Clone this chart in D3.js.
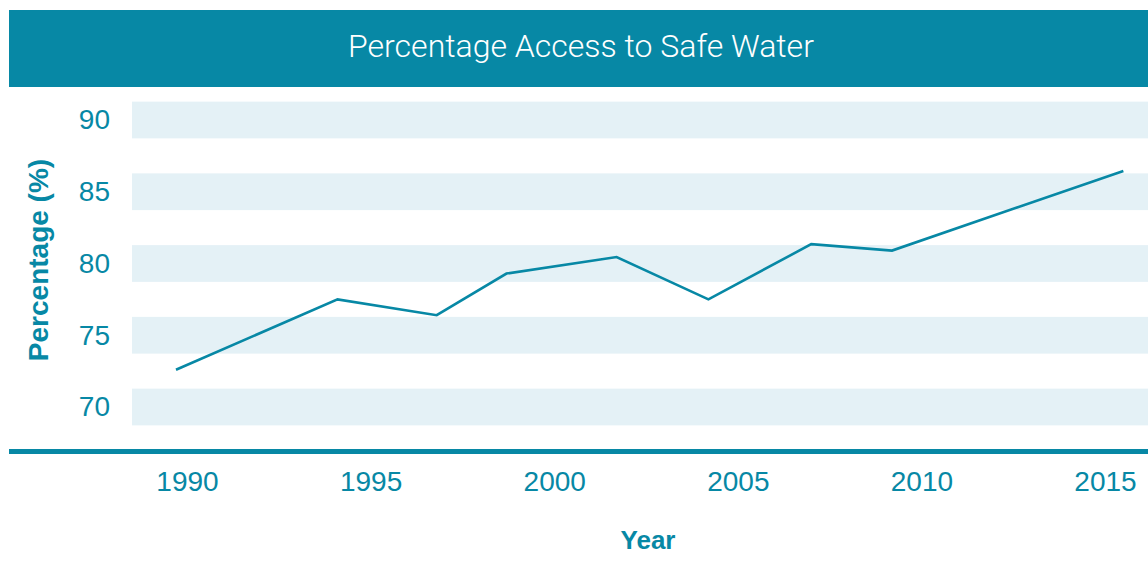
<!DOCTYPE html>
<html>
<head>
<meta charset="utf-8">
<script src="https://cdn.jsdelivr.net/npm/d3@7"></script>
<style>
  body { margin: 0; background: #fff; }
  text { font-family: "Liberation Sans", Arial, sans-serif; }
</style>
</head>
<body>
<div id="chart"></div>
<script>
// data
const years = [1989.7, 1994.1, 1996.8, 1998.7, 2001.7, 2004.2, 2007.0, 2009.2, 2015.5];
const values = [72.6, 77.5, 76.4, 79.3, 80.45, 77.5, 81.35, 80.9, 86.45];
const yTicks = [70, 75, 80, 85, 90];
const xTicks = [1990, 1995, 2000, 2005, 2010, 2015];

const teal = "#0788a5";
const band = "#e4f1f6";

const W = 1148, H = 565;

const svg = d3.select("#chart")
  .append("svg")
  .attr("width", W)
  .attr("height", H);

// scales
const x = d3.scaleLinear().domain([1990, 2015]).range([187, 1105]);
const y = d3.scaleLinear().domain([70, 90]).range([407, 120]);

// title bar
svg.append("rect")
  .attr("x", 9).attr("y", 10)
  .attr("width", W - 9).attr("height", 77)
  .attr("fill", teal);

svg.append("text")
  .attr("x", 581).attr("y", 57)
  .attr("text-anchor", "middle")
  .style("font-family", "Roboto, sans-serif")
  .style("font-weight", 300)
  .style("font-size", "32px")
  .attr("fill", "#fff")
  .text("Percentage Access to Safe Water");

// horizontal bands at each tick
svg.selectAll("rect.band")
  .data(yTicks)
  .join("rect")
    .attr("class", "band")
    .attr("x", 132)
    .attr("width", W - 132)
    .attr("y", d => y(d + 1.28))
    .attr("height", d => y(d - 1.28) - y(d + 1.28))
    .attr("fill", band);

// y axis labels
svg.append("g")
  .attr("transform", "translate(110,0)")
  .call(d3.axisLeft(y).tickValues(yTicks).tickSize(0).tickPadding(0))
  .call(g => g.select(".domain").remove())
  .selectAll("text")
    .style("font-size", "28px")
    .attr("fill", teal);

// x axis line + labels
svg.append("line")
  .attr("x1", 9).attr("x2", W)
  .attr("y1", 451.5).attr("y2", 451.5)
  .attr("stroke", teal)
  .attr("stroke-width", 5);

svg.append("g")
  .attr("transform", "translate(0,470)")
  .call(d3.axisBottom(x).tickValues(xTicks).tickFormat(d3.format("d")).tickSize(0).tickPadding(0))
  .call(g => g.select(".domain").remove())
  .selectAll("text")
    .attr("dy", "0.75em")
    .style("font-size", "28px")
    .attr("fill", teal);

// the line
const line = d3.line()
  .x((d, i) => x(years[i]))
  .y(d => y(d));

svg.append("path")
  .datum(values)
  .attr("d", line)
  .attr("fill", "none")
  .attr("stroke", teal)
  .attr("stroke-width", 2.6);

// axis titles
svg.append("text")
  .attr("transform", "translate(48,260) rotate(-90)")
  .attr("text-anchor", "middle")
  .style("font-size", "28px")
  .style("font-weight", "bold")
  .attr("fill", teal)
  .text("Percentage (%)");

svg.append("text")
  .attr("x", 648).attr("y", 549)
  .attr("text-anchor", "middle")
  .style("font-size", "26px")
  .style("font-weight", "bold")
  .attr("fill", teal)
  .text("Year");
</script>
</body>
</html>
